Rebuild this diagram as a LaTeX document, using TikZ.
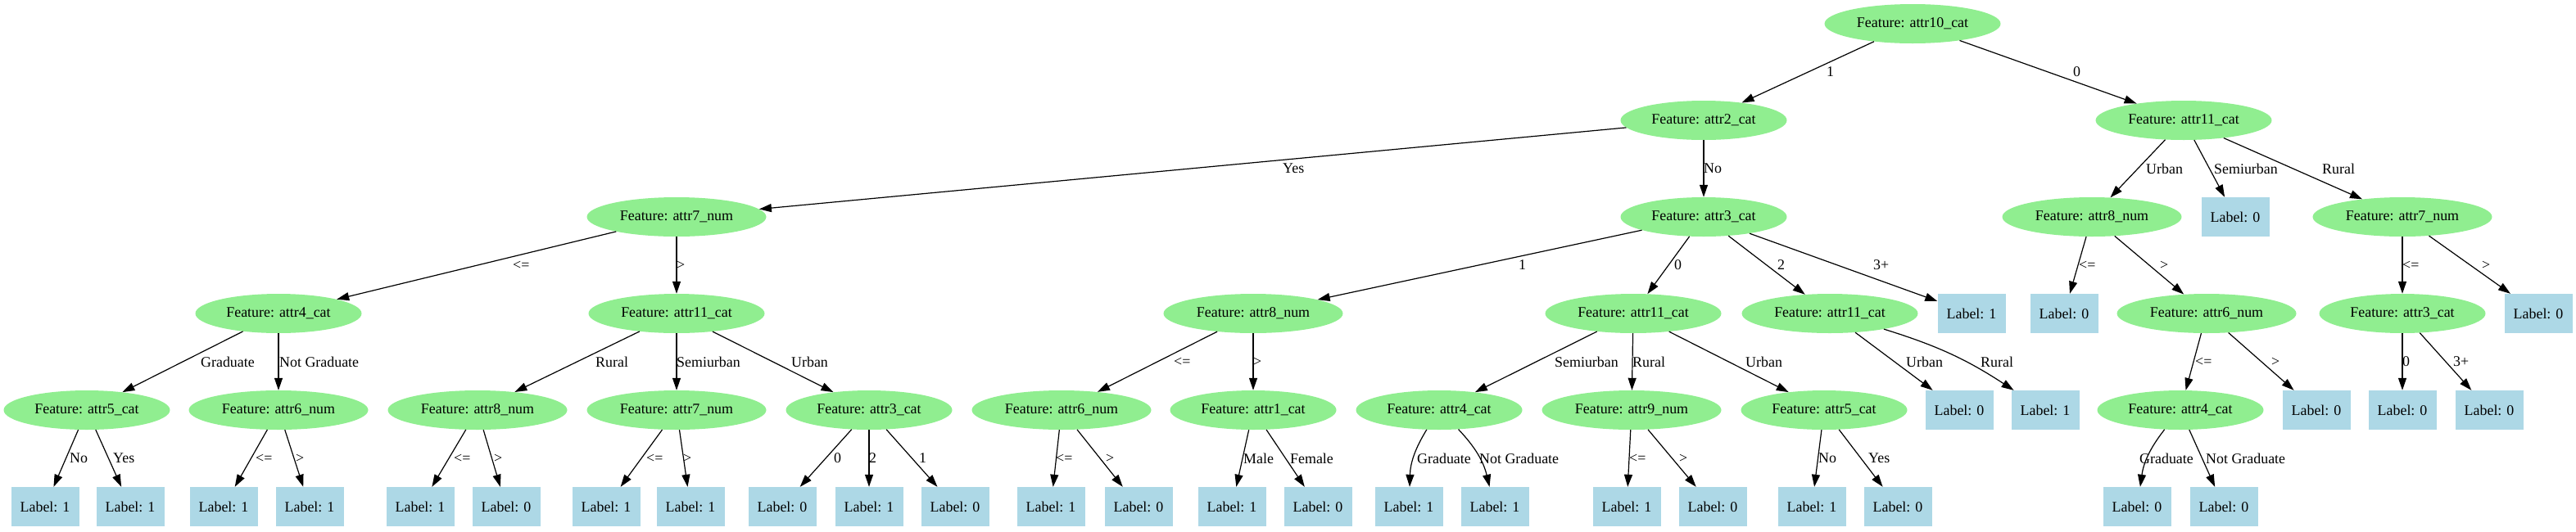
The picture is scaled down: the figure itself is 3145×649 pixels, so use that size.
\documentclass[tikz,border=0pt]{standalone}
\usepackage{fontspec}
\setmainfont{Liberation Serif}
\usetikzlibrary{shapes.geometric,arrows.meta}
\definecolor{featgreen}{HTML}{90EE90}
\definecolor{leafblue}{HTML}{ADD8E6}
\begin{document}
\begin{tikzpicture}[x=1pt,y=-1pt,
  txt/.style={font=\fontsize{17.9}{20}\selectfont},
  feat/.style={ellipse, fill=featgreen, minimum height=48pt, inner sep=0pt, txt},
  wa/.style={minimum width=203pt}, wb/.style={minimum width=215pt}, wc/.style={minimum width=219pt},
  leaf/.style={rectangle, fill=leafblue, minimum width=83pt, minimum height=48pt, inner sep=0pt, txt},
  edge/.style={-{Triangle[length=15pt,width=10pt]}, line width=1.2pt},
  elab/.style={anchor=west, inner sep=0pt, txt}]
\useasboundingbox (0,0) rectangle (3145,649);
% row 0
\node[feat,wb] (r) at (2335,29) {Feature: attr10\_cat};
% row 1
\node[feat,wa] (a) at (2080,147) {Feature: attr2\_cat};
\node[feat,wb] (b) at (2666,147) {Feature: attr11\_cat};
% row 2
\node[feat,wc] (aa) at (826,265) {Feature: attr7\_num};
\node[feat,wa] (ab) at (2080,265) {Feature: attr3\_cat};
\node[feat,wc] (ba) at (2554,265) {Feature: attr8\_num};
\node[leaf] (bb) at (2729,265) {Label: 0};
\node[feat,wc] (bc) at (2933,265) {Feature: attr7\_num};
% row 3
\node[feat,wa] (aaa) at (340,383) {Feature: attr4\_cat};
\node[feat,wb] (aab) at (826,383) {Feature: attr11\_cat};
\node[feat,wc] (aba) at (1530,383) {Feature: attr8\_num};
\node[feat,wb] (abb) at (1994,383) {Feature: attr11\_cat};
\node[feat,wb] (abc) at (2234,383) {Feature: attr11\_cat};
\node[leaf] (abd) at (2407,383) {Label: 1};
\node[leaf] (baa) at (2520,383) {Label: 0};
\node[feat,wc] (bab) at (2694,383) {Feature: attr6\_num};
\node[feat,wa] (bca) at (2933,383) {Feature: attr3\_cat};
\node[leaf] (bcb) at (3099,383) {Label: 0};
% row 4
\node[feat,wa] (aaaa) at (106,501) {Feature: attr5\_cat};
\node[feat,wc] (aaab) at (340,501) {Feature: attr6\_num};
\node[feat,wc] (aaba) at (583,501) {Feature: attr8\_num};
\node[feat,wc] (aabb) at (826,501) {Feature: attr7\_num};
\node[feat,wa] (aabc) at (1061,501) {Feature: attr3\_cat};
\node[feat,wc] (abaa) at (1296,501) {Feature: attr6\_num};
\node[feat,wa] (abab) at (1530,501) {Feature: attr1\_cat};
\node[feat,wa] (abba) at (1757,501) {Feature: attr4\_cat};
\node[feat,wc] (abbb) at (1992,501) {Feature: attr9\_num};
\node[feat,wa] (abbc) at (2227,501) {Feature: attr5\_cat};
\node[leaf] (abca) at (2392,501) {Label: 0};
\node[leaf] (abcb) at (2497,501) {Label: 1};
\node[feat,wa] (baba) at (2662,501) {Feature: attr4\_cat};
\node[leaf] (babb) at (2828,501) {Label: 0};
\node[leaf] (bcaa) at (2933,501) {Label: 0};
\node[leaf] (bcab) at (3039,501) {Label: 0};
% row 5
\node[leaf] (aaaaa) at (55,619) {Label: 1};
\node[leaf] (aaaab) at (159,619) {Label: 1};
\node[leaf] (aaaba) at (273,619) {Label: 1};
\node[leaf] (aaabb) at (378,619) {Label: 1};
\node[leaf] (aabaa) at (513,619) {Label: 1};
\node[leaf] (aabab) at (618,619) {Label: 0};
\node[leaf] (aabba) at (740,619) {Label: 1};
\node[leaf] (aabbb) at (843,619) {Label: 1};
\node[leaf] (aabca) at (955,619) {Label: 0};
\node[leaf] (aabcb) at (1061,619) {Label: 1};
\node[leaf] (aabcc) at (1166,619) {Label: 0};
\node[leaf] (abaaa) at (1283,619) {Label: 1};
\node[leaf] (abaab) at (1390,619) {Label: 0};
\node[leaf] (ababa) at (1504,619) {Label: 1};
\node[leaf] (ababb) at (1609,619) {Label: 0};
\node[leaf] (abbaa) at (1720,619) {Label: 1};
\node[leaf] (abbab) at (1825,619) {Label: 1};
\node[leaf] (abbba) at (1986,619) {Label: 1};
\node[leaf] (abbbb) at (2091,619) {Label: 0};
\node[leaf] (abbca) at (2212,619) {Label: 1};
\node[leaf] (abbcb) at (2317,619) {Label: 0};
\node[leaf] (babaa) at (2609,619) {Label: 0};
\node[leaf] (babab) at (2715,619) {Label: 0};
% edges
\draw[edge] (r) -- (a);   \node[elab] (t1) at (2230,88) {1};
\draw[edge] (r) -- (b);   \node[elab] (t2) at (2531,88) {0};
\draw[edge] (a) -- (aa);  \node[elab] (t3) at (1566,206) {Yes};
\draw[edge] (a) -- (ab);  \node[elab] (t4) at (2080,206) {No};
\draw[edge] (b) -- (ba);  \node[elab] (t5) at (2620,206) {Urban};
\draw[edge] (b) -- (bb);  \node[elab] (t6) at (2703,206) {Semiurban};
\draw[edge] (b) -- (bc); \node[elab] (t7) at (2835,206) {Rural};
\draw[edge] (aa) -- (aaa); \node[elab] (t8) at (626,324) {<=};
\draw[edge] (aa) -- (aab); \node[elab] (t9) at (826,324) {>};
\draw[edge] (ab) -- (aba); \node[elab] (t10) at (1854,324) {1};
\draw[edge] (ab) -- (abb); \node[elab] (t11) at (2044,324) {0};
\draw[edge] (ab) -- (abc); \node[elab] (t12) at (2170,324) {2};
\draw[edge] (ab) -- (abd); \node[elab] (t13) at (2287,324) {3+};
\draw[edge] (ba) -- (baa); \node[elab] (t14) at (2538,324) {<=};
\draw[edge] (ba) -- (bab); \node[elab] (t15) at (2637,324) {>};
\draw[edge] (bc) -- (bca); \node[elab] (t16) at (2933,324) {<=};
\draw[edge] (bc) -- (bcb); \node[elab] (t17) at (3030,324) {>};
\draw[edge] (aaa) -- (aaaa); \node[elab] (t18) at (245,442) {Graduate};
\draw[edge] (aaa) -- (aaab); \node[elab] (t19) at (341,442) {Not Graduate};
\draw[edge] (aab) -- (aaba); \node[elab] (t20) at (727,442) {Rural};
\draw[edge] (aab) -- (aabb); \node[elab] (t21) at (826,442) {Semiurban};
\draw[edge] (aab) -- (aabc); \node[elab] (t22) at (966,442) {Urban};
\draw[edge] (aba) -- (abaa); \node[elab] (t23) at (1433,442) {<=};
\draw[edge] (aba) -- (abab); \node[elab] (t24) at (1530,442) {>};
\draw[edge] (abb) -- (abba); \node[elab] (t25) at (1898,442) {Semiurban};
\draw[edge] (abb) -- (abbb); \node[elab] (t26) at (1993,442) {Rural};
\draw[edge] (abb) -- (abbc); \node[elab] (t27) at (2131,442) {Urban};
\draw[edge] (abc) -- (abca); \node[elab] (t28) at (2327,442) {Urban};
\draw[edge] (abc) to[bend left=8] (abcb); \node[elab] (t29) at (2418,442) {Rural};
\draw[edge] (bab) -- (baba); \node[elab] (t30) at (2680,442) {<=};
\draw[edge] (bab) -- (babb); \node[elab] (t31) at (2773,442) {>};
\draw[edge] (bca) -- (bcaa); \node[elab] (t32) at (2933,442) {0};
\draw[edge] (bca) -- (bcab); \node[elab] (t33) at (2995,442) {3+};
\draw[edge] (aaaa) -- (aaaaa); \node[elab] (t34) at (85,560) {No};
\draw[edge] (aaaa) -- (aaaab); \node[elab] (t35) at (138,560) {Yes};
\draw[edge] (aaab) -- (aaaba); \node[elab] (t36) at (312,560) {<=};
\draw[edge] (aaab) -- (aaabb); \node[elab] (t37) at (361,560) {>};
\draw[edge] (aaba) -- (aabaa); \node[elab] (t38) at (554,560) {<=};
\draw[edge] (aaba) -- (aabab); \node[elab] (t39) at (603,560) {>};
\draw[edge] (aabb) -- (aabba); \node[elab] (t40) at (789,560) {<=};
\draw[edge] (aabb) -- (aabbb); \node[elab] (t41) at (834,560) {>};
\draw[edge] (aabc) -- (aabca); \node[elab] (t42) at (1018,560) {0};
\draw[edge] (aabc) -- (aabcb); \node[elab] (t43) at (1061,560) {2};
\draw[edge] (aabc) -- (aabcc); \node[elab] (t44) at (1122,560) {1};
\draw[edge] (abaa) -- (abaaa); \node[elab] (t45) at (1289,560) {<=};
\draw[edge] (abaa) -- (abaab); \node[elab] (t46) at (1350,560) {>};
\draw[edge] (abab) -- (ababa); \node[elab] (t47) at (1518,560) {Male};
\draw[edge] (abab) -- (ababb); \node[elab] (t48) at (1575,560) {Female};
\draw[edge] (abba) to[bend right=15] (abbaa); \node[elab] (t49) at (1730,560) {Graduate};
\draw[edge] (abba) to[bend left=15] (abbab); \node[elab] (t50) at (1806,560) {Not Graduate};
\draw[edge] (abbb) -- (abbba); \node[elab] (t51) at (1989,560) {<=};
\draw[edge] (abbb) -- (abbbb); \node[elab] (t52) at (2050,560) {>};
\draw[edge] (abbc) -- (abbca); \node[elab] (t53) at (2220,560) {No};
\draw[edge] (abbc) -- (abbcb); \node[elab] (t54) at (2281,560) {Yes};
\draw[edge] (baba) to[bend right=15] (babaa); \node[elab] (t55) at (2612,560) {Graduate};
\draw[edge] (baba) -- (babab); \node[elab] (t56) at (2693,560) {Not Graduate};
\end{tikzpicture}
\end{document}
